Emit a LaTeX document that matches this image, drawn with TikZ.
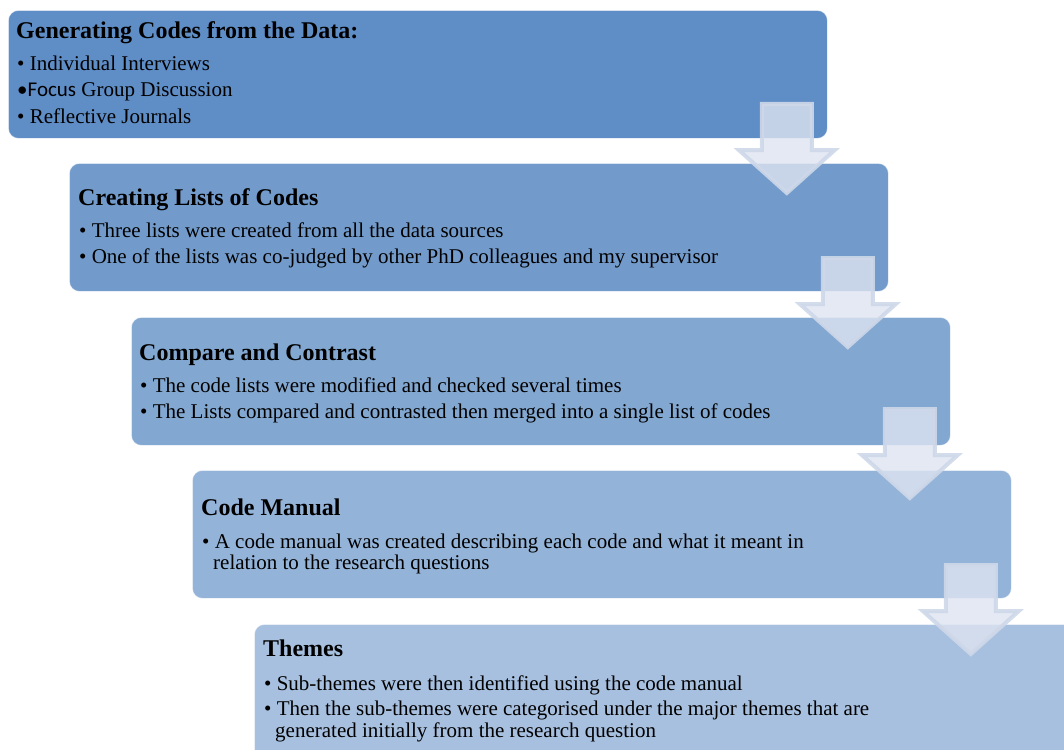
\documentclass[tikz,border=0pt]{standalone}
\usepackage{fontspec}
\setmainfont{Liberation Serif}
\newfontfamily\carlito{Carlito}
\usetikzlibrary{calc}
\definecolor{cA}{RGB}{95,141,198}
\definecolor{cB}{RGB}{114,155,203}
\definecolor{cC}{RGB}{130,167,208}
\definecolor{cD}{RGB}{148,179,216}
\definecolor{cE}{RGB}{167,192,223}
\definecolor{arrfill}{RGB}{222,228,241}
\definecolor{arrline}{RGB}{206,216,233}
\tikzset{
  box/.style={anchor=north west, rounded corners=10pt, draw=white, draw opacity=0.6,
    line width=0.8pt, minimum width=819pt, minimum height=128pt, inner sep=0pt},
  head/.style={anchor=base west, inner sep=0pt, font=\fontsize{24}{28}\selectfont\bfseries},
  txt/.style={anchor=base west, inner sep=0pt, font=\fontsize{21}{25}\selectfont},
  blockarrow/.style={fill=arrfill, fill opacity=0.8, draw=arrline, draw opacity=0.9,
    line width=4pt, line join=miter},
  downarrow/.pic={\path[blockarrow] (-25,2) -- (25,2) -- (25,48) -- (48,48) -- (0,91)
    -- (-48,48) -- (-25,48) -- cycle;}
}
\begin{document}
\begin{tikzpicture}[x=1pt,y=-1pt]
\useasboundingbox (0,0) rectangle (1064,749);
\clip (0,0) rectangle (1064,749);
% boxes
\node[box, fill=cA] (b1) at (8,10) {};
\node[box, fill=cB] (b2) at (69,163) {};
\node[box, fill=cC] (b3) at (131,317) {};
\node[box, fill=cD] (b4) at (192,470) {};
\node[box, fill=cE, minimum width=830pt, minimum height=140pt] (b5) at (254,624) {};
% box 1
\node[head] (h1) at (16,39) {Generating Codes from the Data:};
\node[txt] (t11) at (17,71) {\textbullet\ Individual Interviews};
\node[txt] (t12) at (17,97) {{\carlito •Focus} Group Discussion};
\node[txt] (t13) at (17,123) {\textbullet\ Reflective Journals};
% box 2
\node[head] (h2) at (78,205) {Creating Lists of Codes};
\node[txt] (t21) at (79,237) {\textbullet\ Three lists were created from all the data sources};
\node[txt] (t22) at (79,263) {\textbullet\ One of the lists was co-judged by other PhD colleagues and my supervisor};
% box 3
\node[head] (h3) at (139,360) {Compare and Contrast};
\node[txt] (t31) at (140,392) {\textbullet\ The code lists were modified and checked several times};
\node[txt] (t32) at (140,418) {\textbullet\ The Lists compared and contrasted then merged into a single list of codes};
% box 4
\node[head] (h4) at (201,515) {Code Manual};
\node[txt] (t41) at (202,548) {\textbullet\ A code manual was created describing each code and what it meant in};
\node[txt] (t42) at (213,569) {relation to the research questions};
% box 5
\node[head] (h5) at (263,656) {Themes};
\node[txt] (t51) at (264,690) {\textbullet\ Sub-themes were then identified using the code manual};
\node[txt] (t52) at (264,715) {\textbullet\ Then the sub-themes were categorised under the major themes that are};
\node[txt] (t53) at (275,737) {generated initially from the research question};
% arrows
\pic at ($(b1.north east)+(-41,92)$) {downarrow};
\pic at ($(b2.north east)+(-41,93)$) {downarrow};
\pic at ($(b3.north east)+(-41,90)$) {downarrow};
\pic at ($(b4.north east)+(-41,93)$) {downarrow};
\end{tikzpicture}
\end{document}
